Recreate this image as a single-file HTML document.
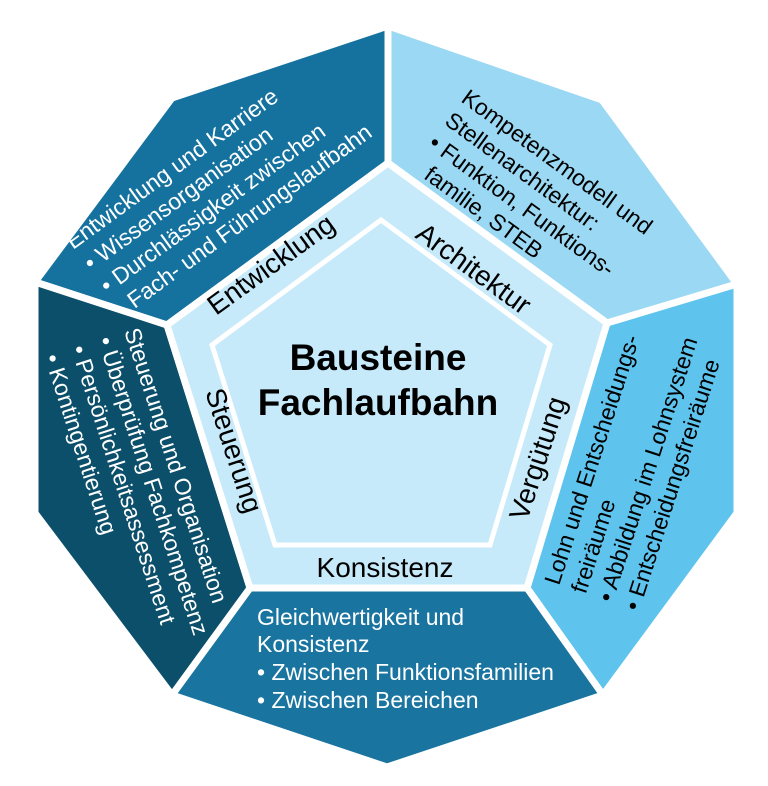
<!DOCTYPE html>
<html><head><meta charset="utf-8"><style>
html,body{margin:0;padding:0;background:#fff;}
svg{display:block;font-family:"Liberation Sans",Arial,sans-serif;}
</style></head><body>
<svg width="768" height="786" viewBox="0 0 768 786" xmlns="http://www.w3.org/2000/svg">
<g stroke="#fff" stroke-width="7" stroke-linejoin="miter">
<polygon points="388,26 172,98 35,282 167,325 388,163" fill="#15729f"/>
<polygon points="388,26 602,100 737,284 607,323 388,163" fill="#9bd8f3"/>
<polygon points="737,284 737,513 603,695 527,588 607,323" fill="#5ec4ee"/>
<polygon points="527,588 603,695 387,767 172,695 250,588" fill="#1a74a0"/>
<polygon points="35,282 35,513 172,695 250,588 167,325" fill="#0c4f6a"/>
<polygon points="388,163 607,323 527,588 250,588 167,325" fill="#c6eaf9"/>
</g>
<polygon points="381,220 550,345 490,545 275,545 212,345" fill="#c6eaf9" stroke="#fff" stroke-width="5"/>

<text x="378" y="370" font-size="37" font-weight="bold" text-anchor="middle">Bausteine</text>
<text x="378" y="415" font-size="37" font-weight="bold" text-anchor="middle">Fachlaufbahn</text>

<g font-size="28" fill="#000">
<text transform="translate(216,316) rotate(-36)">Entwicklung</text>
<text transform="translate(414,237) rotate(36)">Architektur</text>
<text transform="translate(205,392) rotate(72)">Steuerung</text>
<text transform="translate(527,522) rotate(-72)">Vergütung</text>
<text x="385" y="577" text-anchor="middle">Konsistenz</text>
</g>

<g font-size="23" fill="#fff">
<g transform="translate(73,250) rotate(-36)">
<text x="0" y="0">Entwicklung und Karriere</text>
<text x="2" y="28">• Wissensorganisation</text>
<text x="2" y="56">• Durchlässigkeit zwischen</text>
<text x="15" y="84">Fach- und Führungslaufbahn</text>
</g>
<g transform="translate(124,331) rotate(72)">
<text x="0" y="0">Steuerung und Organisation</text>
<text x="0" y="28">• Überprüfung Fachkompetenz</text>
<text x="0" y="56">• Persönlichkeitsassessment</text>
<text x="0" y="84">• Kontingentierung</text>
</g>
<text x="257" y="625">Gleichwertigkeit und</text>
<text x="257" y="652">Konsistenz</text>
<text x="257" y="680">• Zwischen Funktionsfamilien</text>
<text x="257" y="708">• Zwischen Bereichen</text>
</g>

<g font-size="23" fill="#000">
<g transform="translate(460,101) rotate(36)">
<text x="0" y="0">Kompetenzmodell und</text>
<text x="0" y="28">Stellenarchitektur:</text>
<text x="0" y="56">• Funktion, Funktions-</text>
<text x="15" y="84">familie, STEB</text>
</g>
<g transform="translate(559,586) rotate(-72)">
<text x="0" y="0">Lohn und Entscheidungs-</text>
<text x="0" y="28">freiräume</text>
<text x="0" y="56">• Abbildung im Lohnsystem</text>
<text x="0" y="84">• Entscheidungsfreiräume</text>
</g>
</g>
</svg>
</body></html>
